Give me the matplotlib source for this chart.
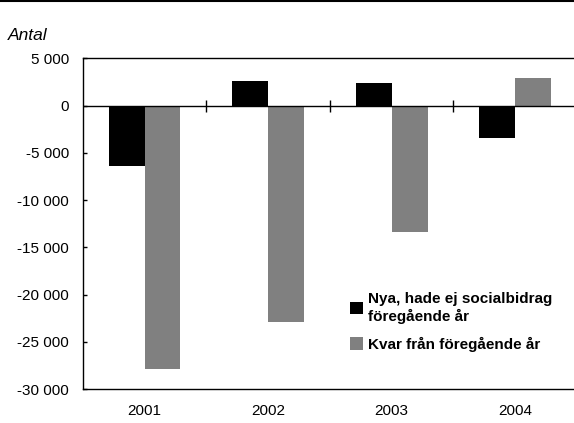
import matplotlib
matplotlib.use("Agg")
import matplotlib.pyplot as plt
from matplotlib.lines import Line2D
from matplotlib.ticker import FuncFormatter, FixedLocator
import numpy as np

plt.rcParams['font.family'] = ['Liberation Sans Narrow', 'Liberation Sans', 'DejaVu Sans']

years = ["2001", "2002", "2003", "2004"]
nya = [-6400, 2600, 2400, -3400]
kvar = [-27900, -22900, -13400, 2900]
labels = ["Nya, hade ej socialbidrag\nföregående år", "Kvar från föregående år"]
yticks = [5000, 0, -5000, -10000, -15000, -20000, -25000, -30000]

fig = plt.figure(figsize=(5.74, 4.23), dpi=100)
W, H = 574, 423
left, right = 82.8 / W, 1.0
top, bottom = 1 - 58.3 / H, 1 - 389.0 / H
ax = fig.add_axes([left, bottom, right - left, top - bottom])

x = np.arange(len(years))
bw = 0.29
ax.bar(x - bw / 2, nya, width=bw, color="black", label=labels[0], zorder=2)
ax.bar(x + bw / 2, kvar, width=bw, color="#808080", label=labels[1], zorder=2)

ax.set_ylim(-30000, 5000)
ax.set_xlim(-0.5, 3.5 - 3.0 / 123.5)
ax.axhline(0, color="black", lw=1.0, zorder=3)
ax.plot(x[:-1] + 0.5, np.zeros(len(x) - 1), linestyle="none", marker="|",
        markersize=8, markeredgewidth=1.0, color="black", zorder=3)

ax.yaxis.set_major_locator(FixedLocator(yticks))
ax.yaxis.set_major_formatter(FuncFormatter(
    lambda v, p: ("-" if v < 0 else "") + f"{abs(int(v)):,}".replace(",", " ")))
ax.tick_params(axis="y", direction="in", length=3, width=1, labelsize=11, pad=10)
ax.set_xticks(x)
ax.set_xticklabels(years)
ax.tick_params(axis="x", length=0, labelsize=11, pad=11)

for s in ax.spines.values():
    s.set_linewidth(1.0)
    s.set_color("black")
ax.spines["right"].set_visible(False)

leg = ax.legend(loc="upper left", bbox_to_anchor=((344 - 82.8) / (W - 82.8), (389 - 286) / (389 - 58.3)),
                frameon=False, handlelength=0.85, handleheight=0.85, handletextpad=0.35,
                labelspacing=0.85, borderaxespad=0, prop={"weight": "bold", "size": 11})

fig.text(8 / W, 1 - 36 / H, "Antal", style="italic", fontsize=12.5, va="center", ha="left")
fig.add_artist(Line2D([0, 1], [1 - 1.5 / H, 1 - 1.5 / H], transform=fig.transFigure,
                      color="black", lw=1.5))

fig.savefig("out.png", dpi=100)
